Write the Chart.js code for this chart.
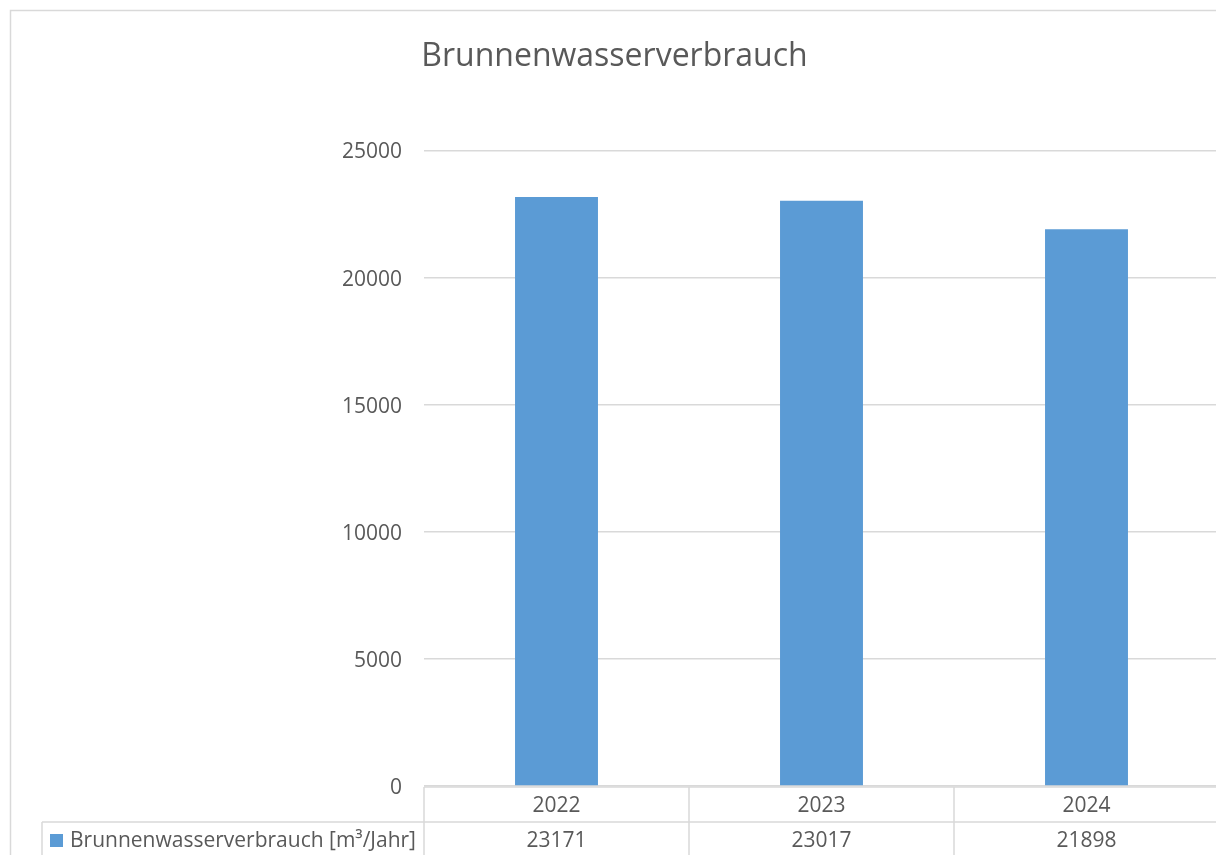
<!DOCTYPE html>
<html lang="de">
<head>
<meta charset="utf-8">
<title>Brunnenwasserverbrauch</title>
<script src="https://cdn.jsdelivr.net/npm/chart.js@4.4.1/dist/chart.umd.min.js"></script>
<style>
  html, body { margin: 0; padding: 0; background: #fff; overflow: hidden; }
  #wrap { width: 1216px; height: 855px; overflow: hidden; }
</style>
</head>
<body>
<div id="wrap"><canvas id="chart" width="1230" height="855"></canvas></div>
<script>
(function () {
  const years = ['2022', '2023', '2024'];
  const verbrauch = [23171, 23017, 21898];
  const seriesName = 'Brunnenwasserverbrauch [m³/Jahr]';
  const yTicks = [0, 5000, 10000, 15000, 20000, 25000];

  const BLUE = '#5b9bd5';
  const GRID = '#d9d9d9';
  const TEXT = '#595959';
  const FONT = '"Open Sans", "DejaVu Sans", sans-serif';

  // Rahmen + Datentabelle unter dem Diagramm (wie in Excel)
  const dataTable = {
    id: 'dataTable',
    afterDraw(chart) {
      const { ctx, chartArea } = chart;
      const x = chart.scales.x;
      const top = chartArea.bottom + 1;
      const mid = 822;
      const bottom = chart.height + 2;
      const labels = x.getLabels();
      const half = (x.getPixelForValue(1) - x.getPixelForValue(0)) / 2;
      const tableLeft = 42;

      ctx.save();
      ctx.strokeStyle = GRID;
      ctx.lineWidth = 1.5;
      // Außenrahmen
      ctx.strokeRect(10.5, 10.5, chart.width + 20, chart.height + 20);

      ctx.beginPath();
      ctx.moveTo(chartArea.left, top); ctx.lineTo(chart.width, top);
      ctx.moveTo(tableLeft, mid); ctx.lineTo(chart.width, mid);
      ctx.moveTo(tableLeft, mid); ctx.lineTo(tableLeft, bottom);
      labels.forEach((_, i) => {
        const l = x.getPixelForValue(i) - half;
        ctx.moveTo(l, top); ctx.lineTo(l, bottom);
      });
      const last = x.getPixelForValue(labels.length - 1) + half;
      ctx.moveTo(last, top); ctx.lineTo(last, bottom);
      ctx.stroke();

      ctx.fillStyle = TEXT;
      ctx.font = '21px ' + FONT;
      ctx.textAlign = 'center';
      ctx.textBaseline = 'middle';
      labels.forEach((lab, i) => {
        const cx = x.getPixelForValue(i);
        ctx.fillText(lab, cx, 806);
        ctx.fillText(String(verbrauch[i]), cx, 841);
      });

      // Legendenschlüssel
      ctx.fillStyle = BLUE;
      ctx.fillRect(50, 834, 13, 13);
      ctx.fillStyle = TEXT;
      ctx.textAlign = 'left';
      ctx.fillText(seriesName, 70, 841);
      ctx.restore();
    }
  };

  new Chart(document.getElementById('chart'), {
    type: 'bar',
    data: {
      labels: years,
      datasets: [{
        label: seriesName,
        data: verbrauch,
        backgroundColor: BLUE,
        borderWidth: 0,
        barPercentage: 0.313,
        categoryPercentage: 1
      }]
    },
    options: {
      responsive: false,
      animation: false,
      layout: { padding: { left: 10, right: 11, top: 0, bottom: 0 } },
      scales: {
        x: {
          grid: { display: false },
          border: { display: false },
          ticks: { display: false },
          afterFit: (s) => { s.height = 69; }
        },
        y: {
          min: 0,
          max: 25000,
          afterBuildTicks: (s) => { s.ticks = yTicks.map(v => ({ value: v })); },
          grid: { color: GRID, lineWidth: 1.5, drawTicks: false },
          border: { display: false },
          ticks: {
            color: TEXT,
            font: { family: FONT, size: 21 },
            padding: 22,
            labelOffset: 2,
            callback: (v) => String(v)
          },
          afterFit: (s) => { s.width = 414; }
        }
      },
      plugins: {
        legend: { display: false },
        tooltip: { enabled: false },
        title: {
          display: true,
          text: 'Brunnenwasserverbrauch',
          color: TEXT,
          font: { family: FONT, size: 32, weight: 'normal' },
          padding: { top: 38, bottom: 74 }
        }
      }
    },
    plugins: [dataTable]
  });
})();
</script>
</body>
</html>
